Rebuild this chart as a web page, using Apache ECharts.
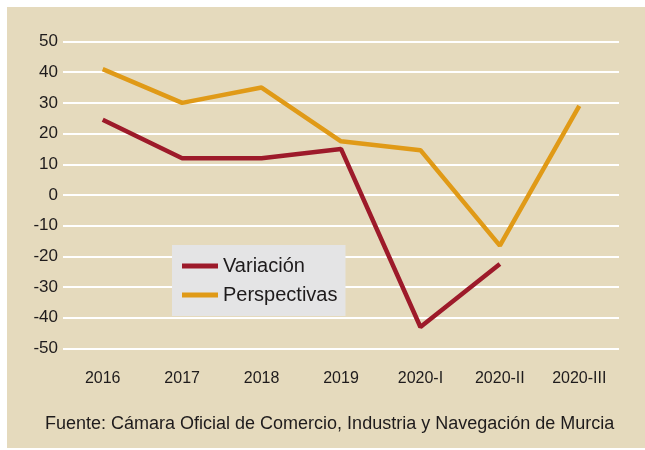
<!DOCTYPE html>
<html>
<head>
<meta charset="utf-8">
<script src="https://cdn.jsdelivr.net/npm/echarts@6/dist/echarts.min.js"></script>
<style>
  html, body { margin: 0; padding: 0; background: #fff; }
  #main { width: 645px; height: 450px; }
</style>
</head>
<body>
<div id="main"></div>
<script>
var categories = ['2016', '2017', '2018', '2019', '2020-I', '2020-II', '2020-III'];
var variacion = [24.5, 12, 12, 15, -43, -22.5, null];
var perspectivas = [41, 30, 35, 17.5, 14.6, -16.5, 29];
var source = 'Fuente: Cámara Oficial de Comercio, Industria y Navegación de Murcia';

var myChart = echarts.init(document.getElementById('main'));

var option = {
    backgroundColor: '#fff',
    animation: false,
    graphic: [{
        type: 'rect',
        z: -10,
        shape: { x: 7, y: 7, width: 640, height: 441 },
        style: { fill: '#e5dabd' }
    }, {
        type: 'text',
        left: 45,
        top: 415,
        style: {
            text: source,
            fill: '#1e1b1c',
            font: '18px "Liberation Sans", sans-serif'
        }
    }],
    grid: { left: 63, right: 26, top: 41.5, bottom: 101.5 },
    legend: {
        orient: 'vertical',
        left: 172,
        top: 245,
        backgroundColor: '#e4e4e5',
        padding: [11, 8, 11, 10],
        itemGap: 9,
        itemWidth: 36,
        itemHeight: 5,
        icon: 'rect',
        textStyle: {
            color: '#1e1b1c',
            fontSize: 20,
            fontFamily: '"Liberation Sans", sans-serif'
        },
        data: ['Variación', 'Perspectivas']
    },
    xAxis: {
        type: 'category',
        data: categories,
        axisLine: { show: false },
        axisTick: { show: false },
        axisLabel: {
            margin: 22,
            color: '#1e1b1c',
            fontSize: 16,
            fontFamily: '"Liberation Sans", sans-serif'
        }
    },
    yAxis: {
        type: 'value',
        min: -50,
        max: 50,
        interval: 10,
        axisLine: { show: false },
        axisTick: { show: false },
        axisLabel: {
            margin: 5,
            color: '#1e1b1c',
            fontSize: 17,
            fontFamily: '"Liberation Sans", sans-serif'
        },
        splitLine: { lineStyle: { color: '#ffffff', width: 2 } }
    },
    series: [{
        name: 'Variación',
        type: 'line',
        data: variacion,
        symbol: 'none',
        itemStyle: { color: '#9d1a2a' },
        lineStyle: { width: 4.5, color: '#9d1a2a' }
    }, {
        name: 'Perspectivas',
        type: 'line',
        data: perspectivas,
        symbol: 'none',
        itemStyle: { color: '#e09a17' },
        lineStyle: { width: 4.5, color: '#e09a17' }
    }]
};
myChart.setOption(option);
</script>
</body>
</html>
